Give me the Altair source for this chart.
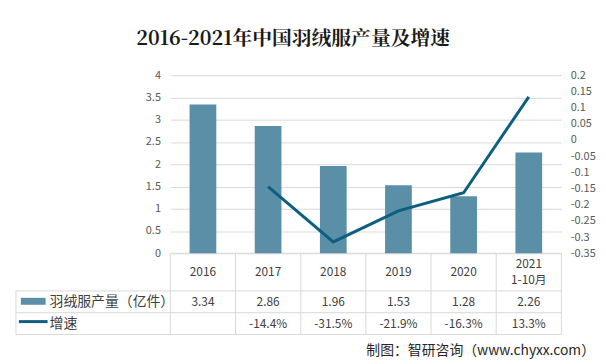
import altair as alt
import pandas as pd

# ---- data ----
categories = ["2016", "2017", "2018", "2019", "2020", "2021\n1-10月"]
output = [3.34, 2.86, 1.96, 1.53, 1.28, 2.26]
growth_pct = [None, -14.4, -31.5, -21.9, -16.3, 13.3]
left_ticks = [0, 0.5, 1, 1.5, 2, 2.5, 3, 3.5, 4]
right_ticks = [-0.35, -0.3, -0.25, -0.2, -0.15, -0.1, -0.05, 0, 0.05, 0.1, 0.15, 0.2]
title_text = "2016-2021年中国羽绒服产量及增速"
series_names = ["羽绒服产量（亿件）", "增速"]
source_text = "制图：智研咨询（www.chyxx.com）"

df = pd.DataFrame({
    "cat": categories,
    "output": output,
    "growth": [None if g is None else g / 100 for g in growth_pct],
    "out_label": [f"{v:.2f}" for v in output],
    "g_label": ["" if g is None else f"{g:.1f}%" for g in growth_pct],
})
one = pd.DataFrame({"k": [0]})

# ---- style ----
W, H = 395, 180
BAR = "#5a8fa7"
LINE = "#0d5f80"
GRID = "#d9d9d9"
FONT = "Noto Sans CJK SC"
TXT = "#404040"

X = alt.X("cat:N", sort=categories, scale=alt.Scale(paddingInner=0, paddingOuter=0), axis=None)

bars = alt.Chart(df).mark_bar(color=BAR, width=alt.RelativeBandSize(0.41)).encode(
    x=X,
    y=alt.Y("output:Q", scale=alt.Scale(domain=[0, 4], nice=False),
            axis=alt.Axis(values=left_ticks, labelExpr="datum.value + ''", grid=True,
                          gridColor=GRID, domain=False, ticks=False, labelPadding=10,
                          labelColor="#595959", labelFontSize=11, labelFont=FONT, title=None)),
)

line = alt.Chart(df).mark_line(color=LINE, strokeWidth=3).encode(
    x=X,
    y=alt.Y("growth:Q", scale=alt.Scale(domain=[-0.35, 0.2], nice=False, zero=False),
            axis=alt.Axis(orient="right", values=right_ticks, labelExpr="datum.value + ''",
                          grid=False, domain=False, ticks=False, labelPadding=9,
                          labelColor="#595959", labelFontSize=11, labelFont=FONT, title=None)),
)

main = alt.layer(bars, line).resolve_scale(y="independent")

# table grid
vlines = alt.Chart(df).mark_rule(color=GRID).encode(
    x=alt.X("cat:N", sort=categories, bandPosition=0, axis=None),
    y=alt.value(H), y2=alt.value(262))
vright = alt.Chart(one).mark_rule(color=GRID).encode(x=alt.value(W), y=alt.value(H), y2=alt.value(262))
vleft = alt.Chart(one).mark_rule(color=GRID).encode(x=alt.value(-156), y=alt.value(218), y2=alt.value(262))
htop = alt.Chart(one).mark_rule(color=GRID).encode(x=alt.value(0), x2=alt.value(W), y=alt.value(H))
hlines = [alt.Chart(one).mark_rule(color=GRID).encode(x=alt.value(-156), x2=alt.value(W), y=alt.value(yy))
          for yy in (218, 240, 262)]

header1 = alt.Chart(df).transform_filter("indexof(datum.cat, '\\n') < 0").mark_text(
    fontSize=12, color=TXT, font=FONT, baseline="middle").encode(
    x=X, y=alt.value(199), text="cat:N")
header2 = alt.Chart(df).transform_filter("indexof(datum.cat, '\\n') >= 0").mark_text(
    lineBreak="\n", lineHeight=16, fontSize=12, color=TXT, font=FONT, baseline="middle").encode(
    x=X, y=alt.value(191), text="cat:N")
row1 = alt.Chart(df).mark_text(fontSize=12, color=TXT, font=FONT, baseline="middle").encode(
    x=X, y=alt.value(229), text="out_label:N")
row2 = alt.Chart(df).mark_text(fontSize=12, color=TXT, font=FONT, baseline="middle").encode(
    x=X, y=alt.value(251), text="g_label:N")

sw_bar = alt.Chart(one).mark_rect(color=BAR).encode(
    x=alt.value(-151), x2=alt.value(-126), y=alt.value(225), y2=alt.value(232))
sw_line = alt.Chart(one).mark_rule(color=LINE, strokeWidth=3).encode(
    x=alt.value(-153), x2=alt.value(-124), y=alt.value(249))
lab1 = alt.Chart(one).mark_text(align="left", baseline="middle", fontSize=14, color=TXT, font=FONT).encode(
    x=alt.value(-122), y=alt.value(229), text=alt.value(series_names[0]))
lab2 = alt.Chart(one).mark_text(align="left", baseline="middle", fontSize=14, color=TXT, font=FONT).encode(
    x=alt.value(-122), y=alt.value(251), text=alt.value(series_names[1]))

title = alt.Chart(one).mark_text(fontSize=20, fontWeight="bold", color="#1a1a1a",
                                 font="Noto Serif CJK SC, Liberation Serif, serif",
                                 baseline="middle").encode(
    x=alt.value(124), y=alt.value(-36), text=alt.value(title_text))
source = alt.Chart(one).mark_text(align="right", baseline="middle", fontSize=14, color="#262626",
                                  font=FONT).encode(
    x=alt.value(429), y=alt.value(279), text=alt.value(source_text))

chart = alt.layer(
    vlines, vright, vleft, htop, *hlines, main, header1, header2, row1, row2,
    sw_bar, sw_line, lab1, lab2, title, source,
).properties(
    width=W, height=H,
    padding={"left": 164, "top": 66, "right": 37, "bottom": 106},
    autosize=alt.AutoSizeParams(type="none"),
    background="white",
).configure_view(strokeWidth=0)

chart.save("out.html", embed_options={"renderer": "svg", "actions": False})
